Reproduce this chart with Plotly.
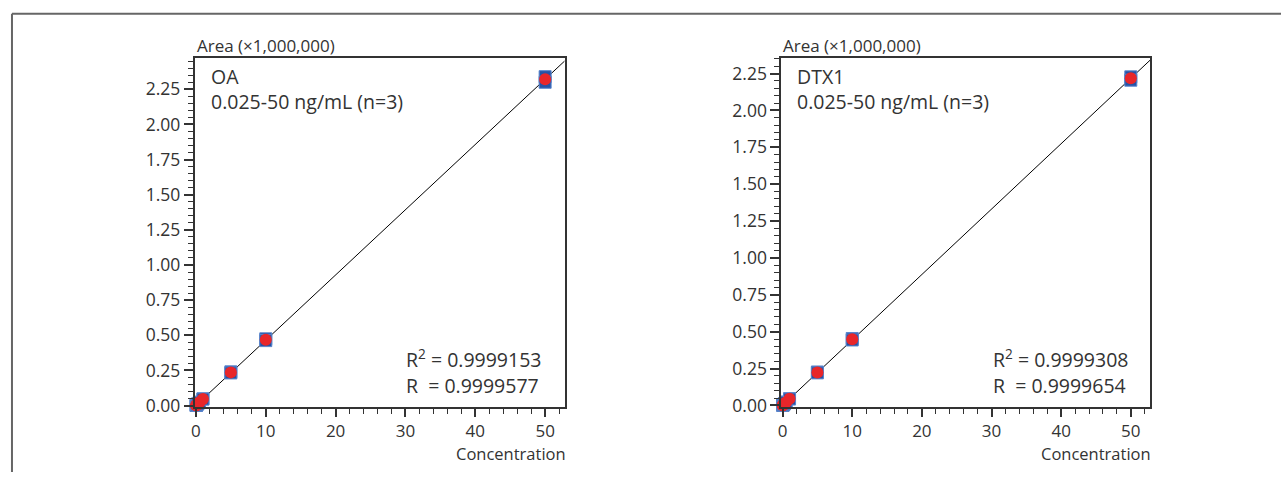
import numpy as np
import plotly.graph_objects as go

# ---- data ----
conc = [0.025, 0.05, 0.1, 0.25, 0.5, 1, 5, 10, 50]

oa_rep1 = [0.0012, 0.0024, 0.0047, 0.0118, 0.0235, 0.048, 0.240, 0.475, 2.340]
oa_rep2 = [0.0011, 0.0023, 0.0045, 0.0114, 0.0229, 0.046, 0.232, 0.462, 2.300]
oa_rep3 = [0.0012, 0.0023, 0.0046, 0.0116, 0.0232, 0.047, 0.236, 0.468, 2.322]

dtx_rep1 = [0.0011, 0.0023, 0.0045, 0.0113, 0.0226, 0.046, 0.227, 0.454, 2.228]
dtx_rep2 = [0.0011, 0.0022, 0.0044, 0.0110, 0.0220, 0.044, 0.221, 0.444, 2.205]
dtx_rep3 = [0.0011, 0.0022, 0.0044, 0.0112, 0.0223, 0.045, 0.224, 0.449, 2.218]

panels = [
    dict(name="OA", reps=[oa_rep1, oa_rep2, oa_rep3], r2="0.9999153", r="0.9999577",
         yrange=[-0.012, 2.47]),
    dict(name="DTX1", reps=[dtx_rep1, dtx_rep2, dtx_rep3], r2="0.9999308", r="0.9999654",
         yrange=[-0.012, 2.353]),
]
xrange_ = [-0.2, 52.8]
subtitle = "0.025-50 ng/mL (n=3)"
ytitle = "Area (×1,000,000)"
xtitle = "Concentration"

W, H = 1281, 481
xdoms = [[192 / W, 563 / W], [780 / W, 1150 / W]]
ydom = [1 - 415 / H, 1 - 59.5 / H]

FONT = "Open Sans"
TXT = "#333333"
BLUE = "#2553a6"
BLUE_EDGE = "#5b86cc"
RED = "#e8262a"


def py(px):
    return 1 - px / H


fig = go.Figure()

for i, p in enumerate(panels):
    xa = "x" if i == 0 else "x2"
    ya = "y" if i == 0 else "y2"
    allx = np.concatenate([conc] * 3)
    ally = np.concatenate(p["reps"])
    a, b = np.polyfit(allx, ally, 1)
    lx = np.array([0.0, xrange_[1]])
    fig.add_trace(go.Scatter(x=lx, y=a * lx + b, mode="lines",
                             line=dict(color="black", width=1), xaxis=xa, yaxis=ya,
                             showlegend=False, hoverinfo="skip"))
    for rep in p["reps"][:2]:
        fig.add_trace(go.Scatter(x=conc, y=rep, mode="markers", xaxis=xa, yaxis=ya,
                                 marker=dict(symbol="square", size=12, color=BLUE,
                                             line=dict(color=BLUE_EDGE, width=1)),
                                 cliponaxis=False, showlegend=False))
    fig.add_trace(go.Scatter(x=conc, y=p["reps"][2], mode="markers", xaxis=xa, yaxis=ya,
                             marker=dict(symbol="circle", size=12, color=RED,
                                         line=dict(width=0)),
                             cliponaxis=False, showlegend=False))

    axis_common = dict(showgrid=False, zeroline=False, showline=True, linecolor="#333333",
                       linewidth=1.5, mirror=True, ticks="outside", tickcolor="#333333",
                       tickfont=dict(family=FONT, size=17.5, color=TXT))
    xkey = "xaxis" if i == 0 else "xaxis2"
    ykey = "yaxis" if i == 0 else "yaxis2"
    fig.update_layout(**{
        xkey: dict(axis_common, domain=xdoms[i], range=xrange_, anchor=ya,
                   tickmode="linear", tick0=0, dtick=10, ticklen=8, tickwidth=1.5,
                   tickfont=dict(family=FONT, size=17, color=TXT),
                   minor=dict(dtick=2, ticks="outside", ticklen=5, tickcolor="#333333", tickwidth=1.2)),
        ykey: dict(axis_common, domain=ydom, range=p["yrange"], anchor=xa,
                   tickmode="linear", tick0=0, dtick=0.25, tickformat=".2f", ticklen=9, tickwidth=1.5,
                   minor=dict(dtick=0.05, ticks="outside", ticklen=5, tickcolor="#333333", tickwidth=1.2)),
    })

    x0, x1 = xdoms[i]
    fig.add_annotation(xref="paper", yref="paper", x=x0, y=py(46),
                       xanchor="left", yanchor="middle", showarrow=False, text=ytitle,
                       font=dict(family=FONT, size=17, color=TXT))
    fig.add_annotation(xref="paper", yref="paper", x=x1 + 3 / W, y=py(462),
                       xanchor="right", yanchor="middle", showarrow=False, text=xtitle,
                       font=dict(family=FONT, size=16.5, color=TXT))
    fig.add_annotation(xref="paper", yref="paper", x=x0 + 14 / W, y=py(90.5),
                       xanchor="left", yanchor="middle", showarrow=False, align="left",
                       text=p["name"] + "<br>" + subtitle,
                       font=dict(family=FONT, size=19.5, color=TXT))
    fig.add_annotation(xref="paper", yref="paper", x=x0 + 210 / W, y=py(378.5),
                       xanchor="left", yanchor="middle", showarrow=False, align="left",
                       text="R<sup>2</sup> = " + p["r2"] + "<br>R&nbsp; = " + p["r"],
                       font=dict(family=FONT, size=19.5, color=TXT))

# outer frame
fig.add_shape(type="line", xref="paper", yref="paper", x0=9 / W, x1=1, y0=py(14), y1=py(14),
              line=dict(color="#666666", width=2))
fig.add_shape(type="line", xref="paper", yref="paper", x0=9 / W, x1=9 / W, y0=0, y1=py(14),
              line=dict(color="#666666", width=2))

fig.update_layout(width=W, height=H, margin=dict(l=0, r=0, t=0, b=0),
                  paper_bgcolor="white", plot_bgcolor="white", showlegend=False)

fig.write_html("out.html")
